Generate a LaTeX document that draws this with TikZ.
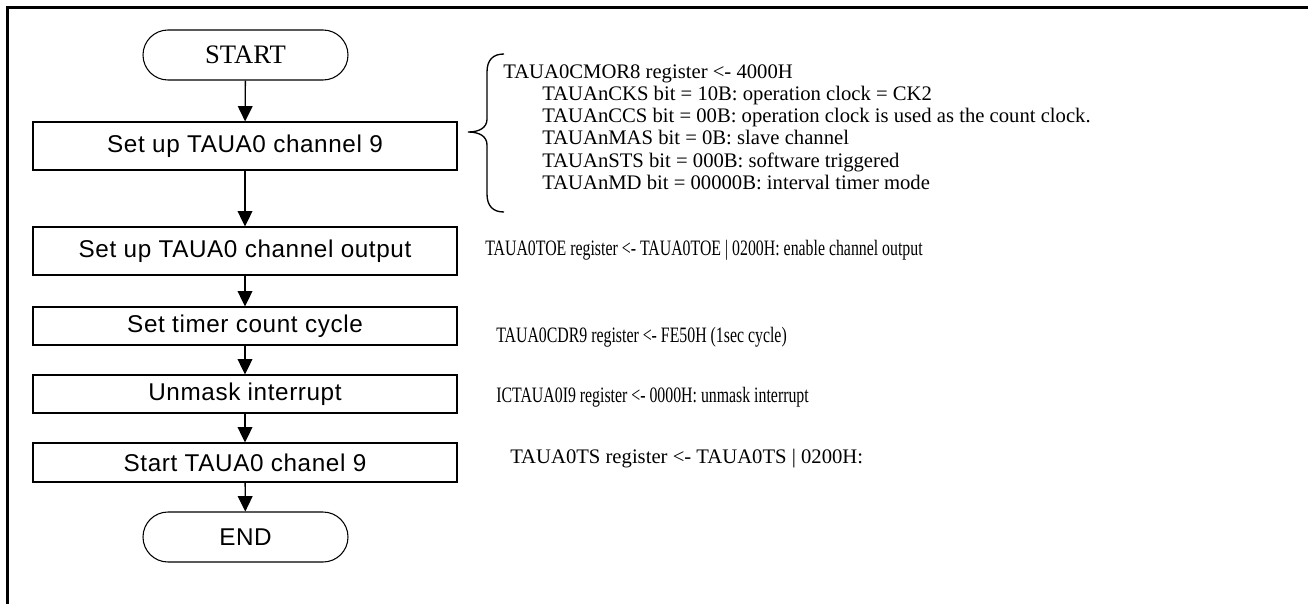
\documentclass[tikz,border=0pt]{standalone}
\usepackage{fontspec}
\usepackage{graphicx}
\usetikzlibrary{arrows.meta}
\setmainfont{Liberation Serif}
\newfontfamily\boxfont[LetterSpace=2.5]{Liberation Sans}

\tikzset{
  frameline/.style={line width=2.25pt},
  procbox/.style={draw, line width=0.8pt, minimum width=318pt, inner sep=0pt,
    font=\boxfont\fontsize{18.2pt}{21pt}\selectfont},
  termbox/.style={draw, line width=0.8pt, rounded corners=18.75pt,
    minimum width=153.75pt, minimum height=37.5pt, inner sep=0pt},
  flow/.style={line width=1pt, -{Triangle[width=11pt,length=11.5pt]}},
  note/.style={anchor=base west, inner sep=0pt,
    font=\fontsize{15.5pt}{18pt}\selectfont},
  widenote/.style={anchor=base west, inner sep=0pt,
    font=\fontsize{16.5pt}{19pt}\selectfont},
  bracepath/.style={line width=1pt},
}
\newcommand{\narrow}[1]{\scalebox{0.72}[1]{#1}}

\begin{document}
\begin{tikzpicture}[x=0.75pt, y=-0.75pt]
  \useasboundingbox (0,0) rectangle (1308,604);

  % page frame: top and left edges only
  \draw[frameline] (7.5,604) -- (7.5,7.5) -- (1308,7.5);

  % flow chart column
  \node[termbox, font=\fontsize{20pt}{23pt}\selectfont] (start) at (245.5,55) {START};
  \node[procbox, minimum height=36pt]   (ch9)   at (245,146)   {Set up TAUA0 channel 9};
  \node[procbox, minimum height=36pt]   (out)   at (245,251)   {Set up TAUA0 channel output};
  \node[procbox, minimum height=28.5pt] (cyc)   at (245,326)   {Set timer count cycle};
  \node[procbox, minimum height=28.5pt] (intr)  at (245,394)   {Unmask interrupt};
  \node[procbox, minimum height=29.25pt](run)   at (245,462.5) {Start TAUA0 chanel 9};
  \node[termbox, font=\boxfont\fontsize{18.2pt}{21pt}\selectfont] (stop) at (245.5,537) {END};

  \draw[flow] (start) -- (ch9);
  \draw[flow] (ch9) -- (out);
  \draw[flow] (out) -- (cyc);
  \draw[flow] (cyc) -- (intr);
  \draw[flow] (intr) -- (run);
  \draw[flow] (run) -- (stop);

  % curly brace grouping the TAUA0CMOR8 settings
  \draw[bracepath] (504,54) .. controls (493,54) and (487,60) .. (487,72)
    -- (487,119) .. controls (487,128) and (479,132) .. (468,132)
    .. controls (479,132) and (487,136) .. (487,145)
    -- (487,194) .. controls (487,206) and (493,212) .. (504,212);

  % register notes
  \node[note] (cmor) at (503,78)     {TAUA0CMOR8 register <- 4000H};
  \node[note] (cks)  at (542,100.3)  {TAUAnCKS bit = 10B: operation clock = CK2};
  \node[note] (ccs)  at (542,122.6)  {TAUAnCCS bit = 00B: operation clock is used as the count clock.};
  \node[note] (mas)  at (542,144.9)  {TAUAnMAS bit = 0B: slave channel};
  \node[note] (sts)  at (542,167.2)  {TAUAnSTS bit = 000B: software triggered};
  \node[note] (md)   at (542,189.5)  {TAUAnMD bit = 00000B: interval timer mode};

  \node[widenote] (toe) at (485,255) {\narrow{TAUA0TOE register <- TAUA0TOE | 0200H: enable channel output}};
  \node[widenote] (cdr) at (496,342) {\narrow{TAUA0CDR9 register <- FE50H (1sec cycle)}};
  \node[widenote] (ict) at (496,402) {\narrow{ICTAUA0I9 register <- 0000H: unmask interrupt}};
  \node[note]     (ts)  at (510,463) {TAUA0TS register <- TAUA0TS | 0200H:};
\end{tikzpicture}
\end{document}
